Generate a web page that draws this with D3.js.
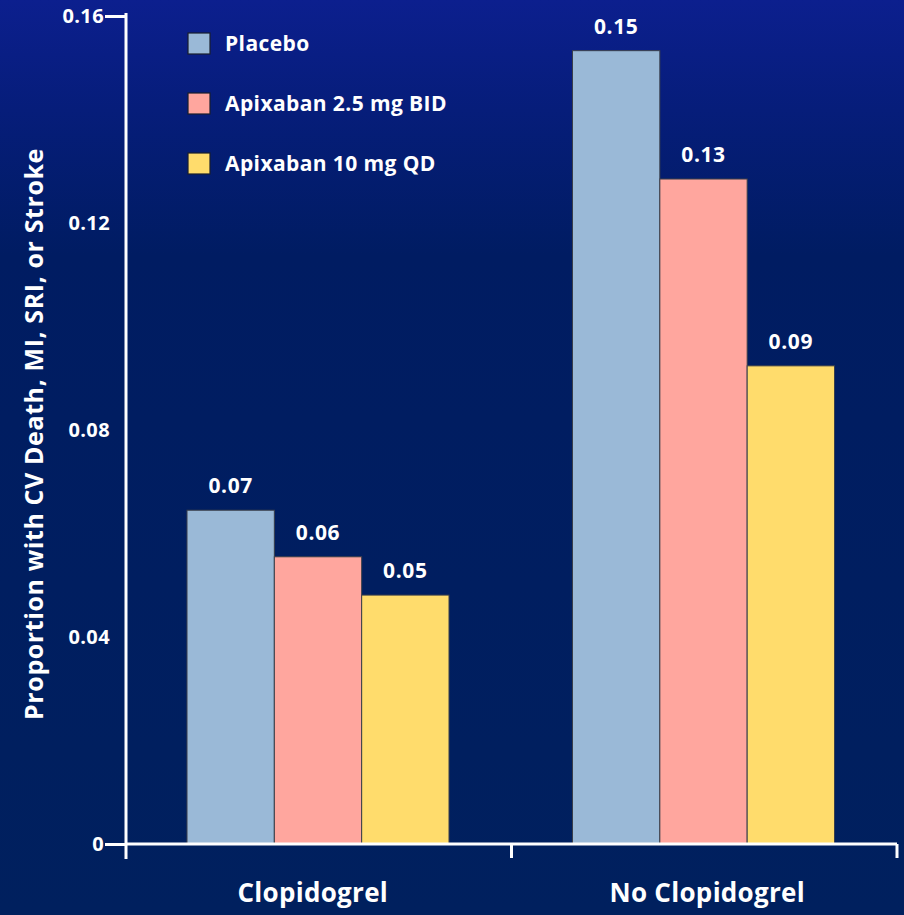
<!DOCTYPE html>
<html>
<head>
<meta charset="utf-8">
<script src="https://cdn.jsdelivr.net/npm/d3@7"></script>
<style>
  html, body { margin: 0; padding: 0; background: #002060; }
  svg { display: block; }
  text { font-family: "Open Sans", "Noto Sans", sans-serif; font-weight: 700; fill: #ffffff; }
</style>
</head>
<body>
<svg id="chart" width="904" height="915"></svg>
<script>
const groups = ["Clopidogrel", "No Clopidogrel"];
const series = ["Placebo", "Apixaban 2.5 mg BID", "Apixaban 10 mg QD"];
const placebo = [0.0645, 0.1533];
const apix25 = [0.0555, 0.1285];
const apix10 = [0.0481, 0.0924];
const valueLabels = [["0.07", "0.06", "0.05"], ["0.15", "0.13", "0.09"]];
const yTicks = [0, 0.04, 0.08, 0.12, 0.16];
const yTickLabels = ["0", "0.04", "0.08", "0.12", "0.16"];
const colors = ["#9ab9d7", "#ffa69e", "#ffdc6c"];
const yTitle = "Proportion with CV Death, MI, SRI, or Stroke";

const values = [placebo, apix25, apix10];

const svg = d3.select("#chart");
const W = 904, H = 915;

// background gradient
const defs = svg.append("defs");
const grad = defs.append("linearGradient").attr("id", "bg").attr("x1", 0).attr("y1", 0).attr("x2", 0).attr("y2", 1);
grad.append("stop").attr("offset", "0%").attr("stop-color", "#0c1f8e");
grad.append("stop").attr("offset", "12%").attr("stop-color", "#061d7a");
grad.append("stop").attr("offset", "28%").attr("stop-color", "#001c62");
grad.append("stop").attr("offset", "100%").attr("stop-color", "#00205e");
svg.append("rect").attr("width", W).attr("height", H).attr("fill", "url(#bg)");

const y = d3.scaleLinear().domain([0, 0.16]).range([844, 16]);
const x0 = d3.scaleBand().domain(groups).range([126, 897]).padding(0);
const x1 = d3.scaleBand().domain(series).range([61, 323]).padding(0);

// bars
groups.forEach((g, gi) => {
  const gEl = svg.append("g").attr("transform", `translate(${x0(g)},0)`);
  series.forEach((s, si) => {
    const v = values[si][gi];
    gEl.append("rect")
      .attr("x", x1(s))
      .attr("y", y(v))
      .attr("width", x1.bandwidth())
      .attr("height", y(0) - y(v))
      .attr("fill", colors[si])
      .attr("stroke", "#3a3f4a")
      .attr("stroke-width", 1);
    gEl.append("text")
      .attr("x", x1(s) + x1.bandwidth() / 2)
      .attr("y", y(v) - 17)
      .attr("text-anchor", "middle")
      .attr("font-size", 21)
      .attr("letter-spacing", 0.6)
      .text(valueLabels[gi][si]);
  });
});

// y axis
const yAxis = d3.axisLeft(y)
  .tickValues(yTicks)
  .tickFormat((d, i) => yTickLabels[i])
  .tickSize(0)
  .tickPadding(16);
const yG = svg.append("g").attr("transform", "translate(126,0)").call(yAxis);
yG.select(".domain").remove();
yG.selectAll("text").attr("font-size", 20).attr("letter-spacing", 0.4)
  .attr("font-family", "'Open Sans', sans-serif").attr("font-weight", 700).attr("fill", "#fff");
yG.selectAll(".tick").filter(d => d === 0 || d === 0.16).each(function() {
  const t = d3.select(this);
  t.append("line").attr("x1", 0).attr("x2", -21).attr("stroke", "#fff").attr("stroke-width", 3);
  t.select("text").attr("x", -22);
});
yG.append("line").attr("x1", 0).attr("x2", 0).attr("y1", 13).attr("y2", 859)
  .attr("stroke", "#fff").attr("stroke-width", 3);

// x axis
const xAxis = d3.axisBottom(x0).tickSize(0).tickPadding(40);
const xG = svg.append("g").attr("transform", `translate(0,${y(0)})`).call(xAxis);
xG.select(".domain").remove();
xG.selectAll("text").attr("font-size", 26).attr("letter-spacing", 0.3)
  .attr("font-family", "'Open Sans', sans-serif").attr("font-weight", 700).attr("fill", "#fff")
  .attr("dx", (d, i) => i === 0 ? -6 : 3);
xG.append("line").attr("x1", 126).attr("x2", 897).attr("y1", 0).attr("y2", 0)
  .attr("stroke", "#fff").attr("stroke-width", 3);
const boundaries = groups.map(g => x0(g) + x0.bandwidth());
xG.selectAll(".btick").data(boundaries).enter().append("line")
  .attr("x1", d => d).attr("x2", d => d).attr("y1", 0).attr("y2", 14)
  .attr("stroke", "#fff").attr("stroke-width", 3);

// y title
svg.append("text")
  .attr("transform", "translate(43,434) rotate(-90)")
  .attr("text-anchor", "middle")
  .attr("font-size", 25)
  .attr("letter-spacing", 0.6)
  .text(yTitle);

// legend
const legend = svg.append("g").attr("transform", "translate(188,33)");
series.forEach((s, i) => {
  const row = legend.append("g").attr("transform", `translate(0,${i * 60})`);
  row.append("rect").attr("width", 22).attr("height", 21)
    .attr("fill", colors[i]).attr("stroke", "#1a1f2e").attr("stroke-width", 1.2);
  row.append("text").attr("x", 37).attr("y", 18).attr("font-size", 21)
    .attr("letter-spacing", 0.4).text(s);
});
</script>
</body>
</html>
